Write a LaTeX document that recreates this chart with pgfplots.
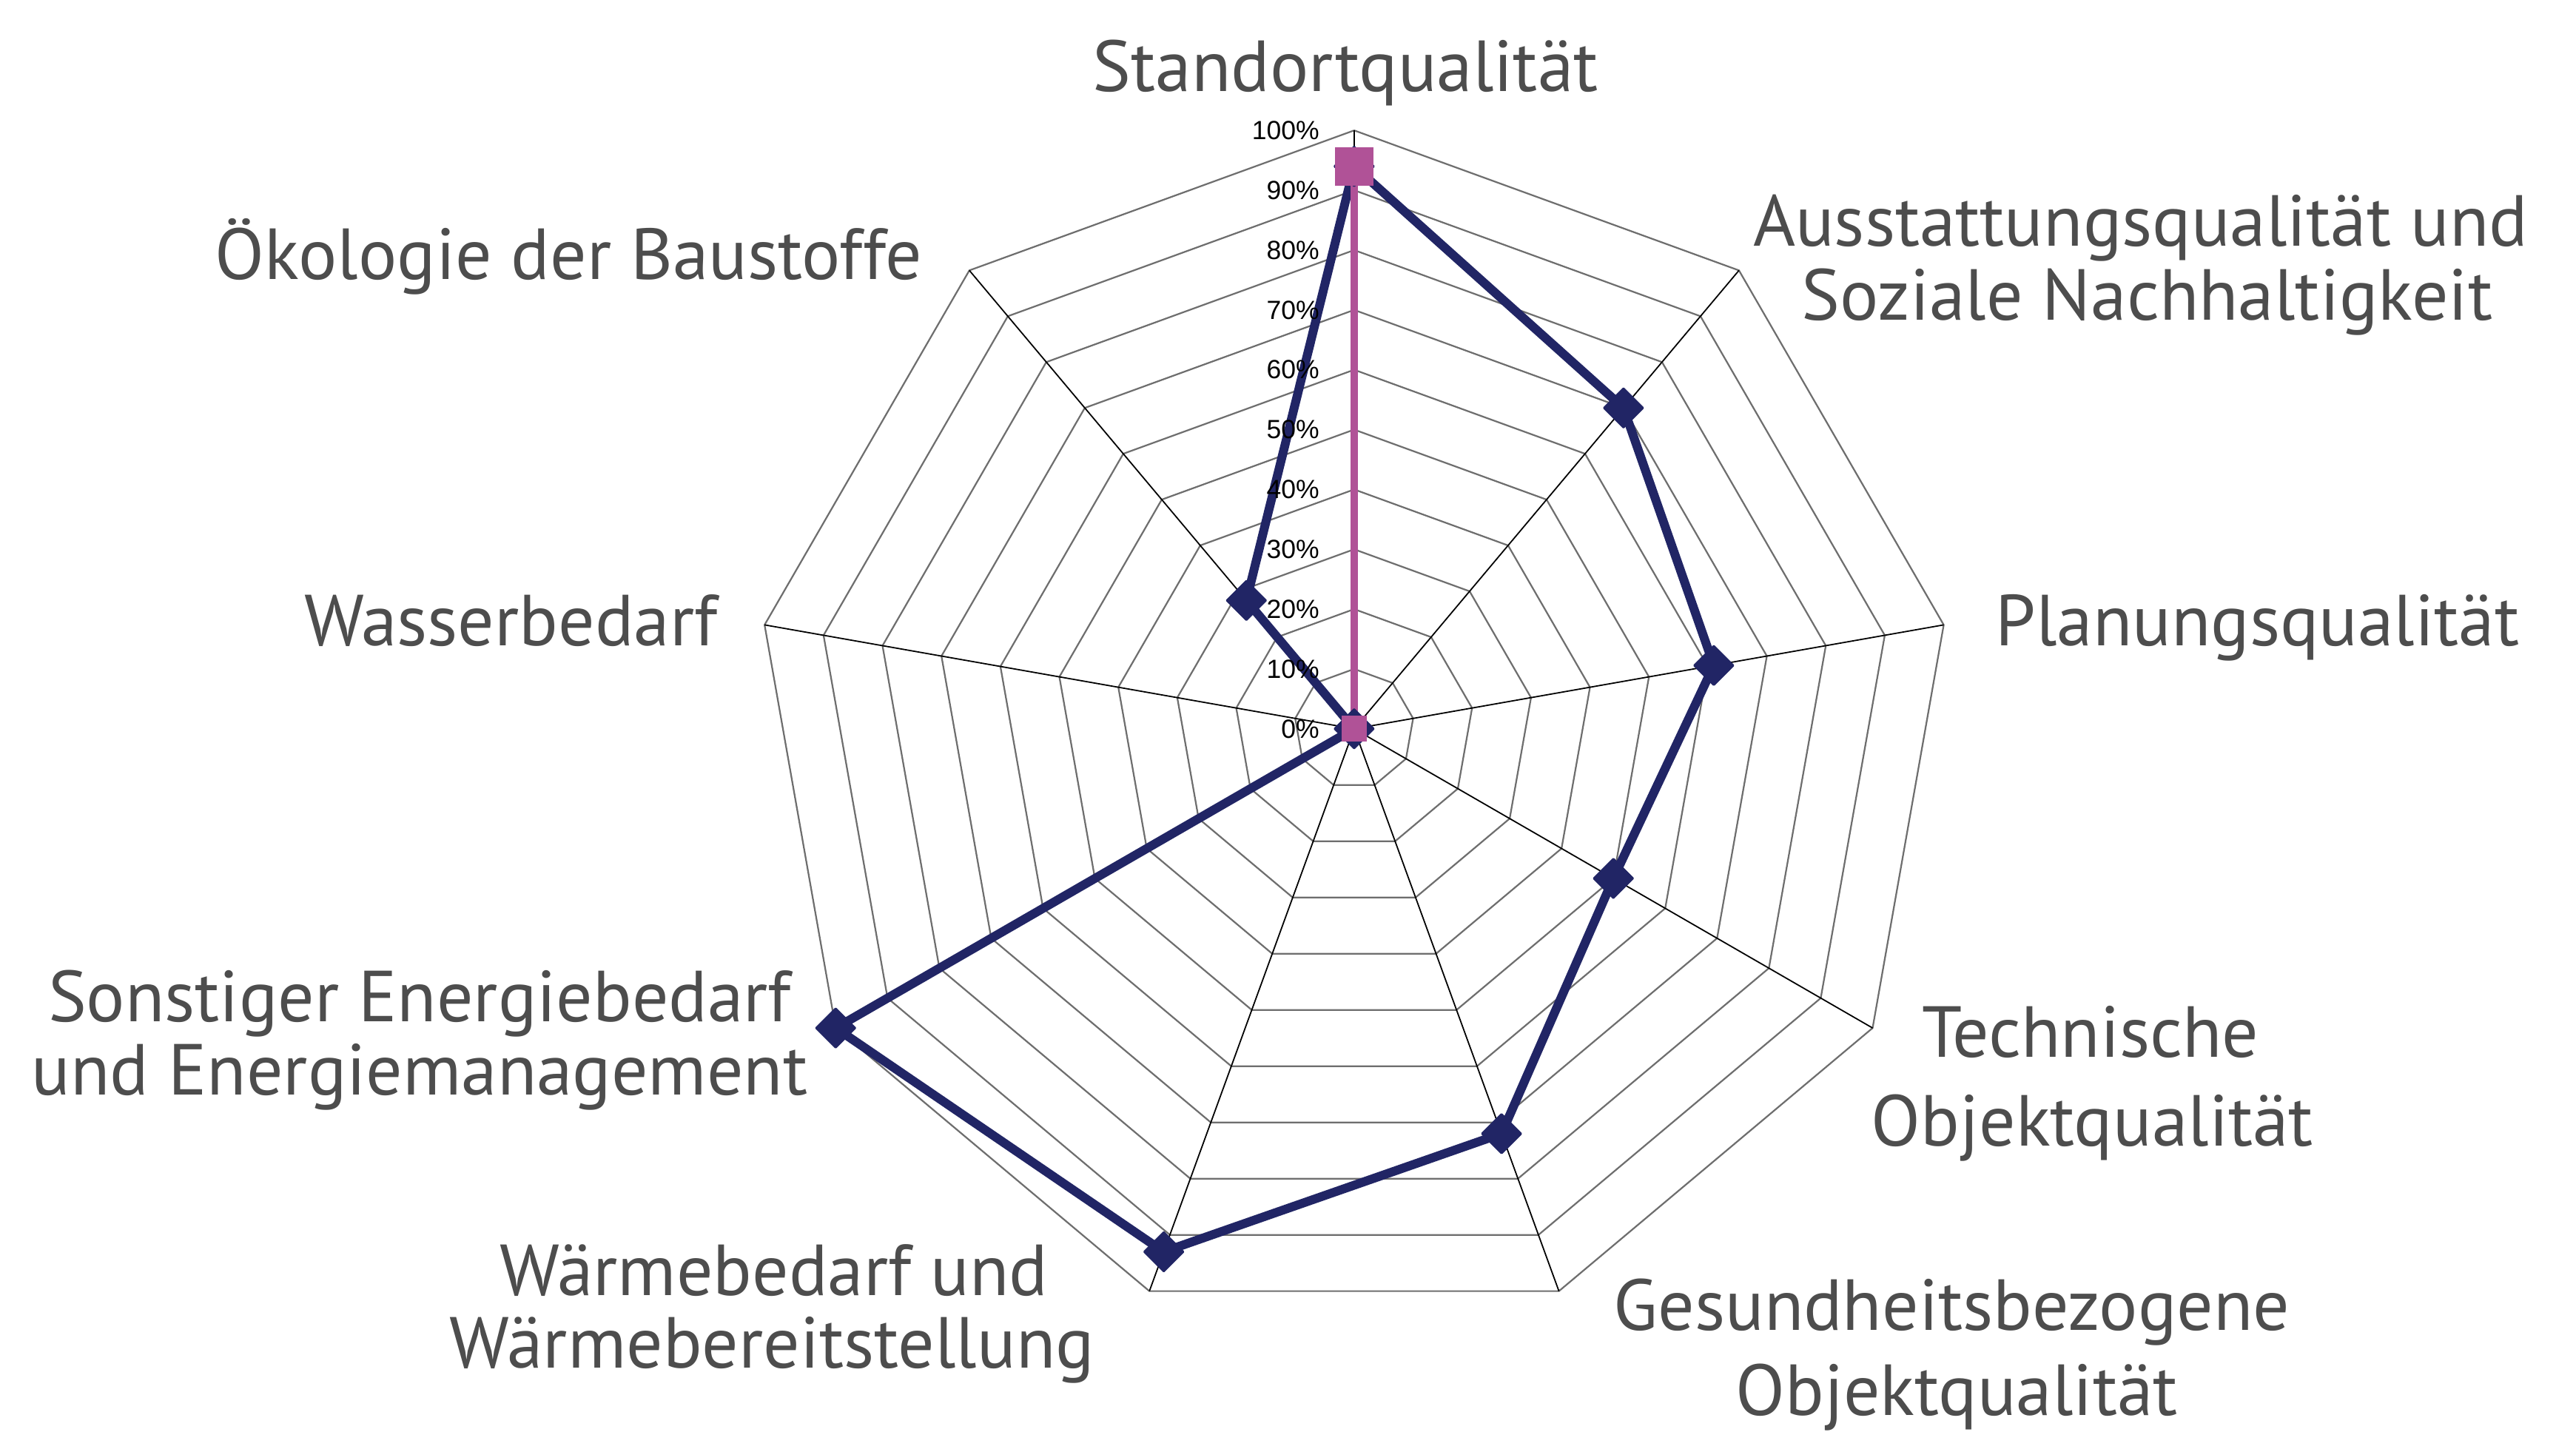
\documentclass[border=0pt]{standalone}
\usepackage{fontspec}
\usepackage{pgfplots}
\pgfplotsset{compat=1.18}
\newfontfamily\lab{PT Sans}
\newfontfamily\tickf{Liberation Sans}
\definecolor{navy}{RGB}{33,37,101}
\definecolor{pinkc}{RGB}{176,82,151}
\definecolor{labgray}{RGB}{77,77,77}
\definecolor{ringgray}{RGB}{110,110,110}
\begin{document}
\begin{tikzpicture}
\begin{axis}[
  width=392pt, height=217.9pt, scale only axis,
  xmin=-226.2, xmax=204.1, ymin=-117.5, ymax=121.8,
  hide axis, clip=false,
]
\draw[draw=none] (rel axis cs:0,0) rectangle (rel axis cs:1,1);
% rings
\pgfplotsinvokeforeach{10,20,...,100}{
  \addplot[ringgray, line width=0.25pt, data cs=polar, mark=none]
    coordinates {(90,#1)(50,#1)(10,#1)(-30,#1)(-70,#1)(-110,#1)(-150,#1)(170,#1)(130,#1)(90,#1)};
}
% spokes
\pgfplotsinvokeforeach{90,50,10,-30,-70,-110,-150,170,130}{
  \addplot[black, line width=0.2pt, data cs=polar, mark=none]
    coordinates {(#1,0)(#1,100)};
}
% series 1
\addplot[navy, line width=1.35pt, line join=round, data cs=polar,
  mark=square*, mark size=2.1pt, mark options={rotate=45, solid, fill=navy, draw=navy, line width=0.3pt}]
  coordinates {(90,94)(50,70)(10,61)(-30,50)(-70,72)(-110,93)(-150,100)(170,0)(130,28)(90,94)};
% series 2
\addplot[pinkc, line width=1.1pt, data cs=polar, mark=none]
  coordinates {(90,94)(50,0)(10,0)(-30,0)(-70,0)(-110,0)(-150,0)(170,0)(130,0)(90,0)};
\addplot[only marks, data cs=polar, mark=square*, mark size=2.75pt, mark options={fill=pinkc, draw=pinkc}]
  coordinates {(90,94)};
\addplot[only marks, data cs=polar, mark=square*, mark size=1.75pt, mark options={fill=pinkc, draw=pinkc}]
  coordinates {(0,0)};
% tick labels
\pgfplotsinvokeforeach{0,10,...,100}{
  \node[anchor=east, inner sep=0pt, font=\tickf\fontsize{4}{5}\selectfont] at (axis cs:-5.6,#1) {#1\%};
}
% category labels
\begin{scope}[every node/.style={anchor=base, inner sep=0pt, text=labgray, font=\lab\fontsize{11}{13}\selectfont}]
\node at (rel axis cs:0.5223,0.9362) {Standortqualität};
\node at (rel axis cs:0.8310,0.8280) {Ausstattungsqualität und};
\node at (rel axis cs:0.8335,0.7764) {Soziale Nachhaltigkeit};
\node at (rel axis cs:0.8763,0.5493) {Planungsqualität};
\node at (rel axis cs:0.8115,0.2615) {Technische};
\node at (rel axis cs:0.8122,0.1999) {Objektqualität};
\node at (rel axis cs:0.7577,0.0711) {Gesundheitsbezogene};
\node at (rel axis cs:0.7596,0.0115) {Objektqualität};
\node at (rel axis cs:0.3004,0.0952) {Wärmebedarf und};
\node at (rel axis cs:0.2997,0.0447) {Wärmebereitstellung};
\node at (rel axis cs:0.1629,0.2867) {Sonstiger Energiebedarf};
\node at (rel axis cs:0.1629,0.2354) {und Energiemanagement};
\node at (rel axis cs:0.1983,0.5493) {Wasserbedarf};
\node at (rel axis cs:0.2207,0.8050) {Ökologie der Baustoffe};
\end{scope}
\end{axis}
\end{tikzpicture}
\end{document}
